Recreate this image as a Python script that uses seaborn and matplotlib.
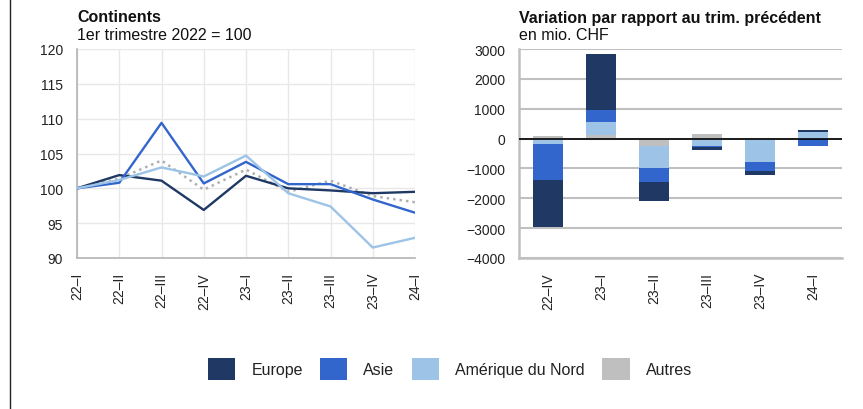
import numpy as np
import pandas as pd
import matplotlib
matplotlib.use('Agg')
import matplotlib.pyplot as plt
import seaborn as sns
from matplotlib.patches import Patch
from matplotlib.lines import Line2D

# Index values (1er trimestre 2022 = 100)
quarters = ['22–I', '22–II', '22–III', '22–IV', '23–I', '23–II', '23–III', '23–IV', '24–I']
europe_idx = [100, 101.9, 101.1, 96.9, 101.8, 100.0, 99.7, 99.3, 99.5]
asie_idx = [100, 100.8, 109.4, 100.7, 103.8, 100.6, 100.6, 98.4, 96.5]
amerique_idx = [100, 101.2, 103.0, 101.7, 104.7, 99.3, 97.4, 91.5, 92.9]
autres_idx = [100, 101.4, 104.0, 99.8, 102.7, 99.5, 101.1, 98.9, 98.0]

# Change vs previous quarter, mio. CHF
var_quarters = ['22–IV', '23–I', '23–II', '23–III', '23–IV', '24–I']
europe_var = [-1573, 1888, -663, -124, -124, 67]
asie_var = [-1213, 404, -438, -10, -303, -258]
amerique_var = [-191, 438, -742, -258, -798, 213]
autres_var = [79, 112, -258, 146, 0, 0]

names = ['Europe', 'Asie', 'Amérique du Nord', 'Autres']
colors = ['#1f3864', '#3366cc', '#9dc3e6', '#bfbfbf']

sns.set_theme(style='white')
plt.rcParams['font.family'] = ['Liberation Sans', 'DejaVu Sans']

fig = plt.figure(figsize=(8.63, 4.10), dpi=100)
W, H = 863, 410

def ax_rect(x0, y0, x1, y1):
    return [x0 / W, 1 - y1 / H, (x1 - x0) / W, (y1 - y0) / H]

# ---- left chart: lines
ax1 = fig.add_axes(ax_rect(77, 50, 415, 259))
series = [europe_idx, asie_idx, amerique_idx, autres_idx]
for name, vals, col in zip(names, series, colors):
    d = pd.DataFrame({'pos': np.arange(len(quarters)), 'val': vals})
    if name == 'Autres':
        sns.lineplot(data=d, x='pos', y='val', ax=ax1, color='#b0b0b0',
                     linewidth=1.8, linestyle=(0, (1, 1.6)), zorder=2)
    else:
        sns.lineplot(data=d, x='pos', y='val', ax=ax1, color=col,
                     linewidth=1.7, zorder=3)
ax1.set_xlim(0, len(quarters) - 1)
ax1.set_ylim(90, 120)
ax1.set_yticks(range(90, 121, 5))
ax1.set_xticks(range(len(quarters)))
ax1.set_xticklabels(quarters, rotation=90)
ax1.grid(True, color='#e8e8e8', linewidth=1)
ax1.set_xlabel('')
ax1.set_ylabel('')
for s in ['top', 'right']:
    ax1.spines[s].set_visible(False)
for s in ['left', 'bottom']:
    ax1.spines[s].set_color('#b4b4b4')
    ax1.spines[s].set_linewidth(1.2)
ax1.tick_params(axis='x', length=4, width=1, color='#b4b4b4', pad=6, labelsize=10, labelcolor='#222222')
ax1.tick_params(axis='y', length=0, pad=10, labelsize=10, labelcolor='#222222')

# ---- right chart: diverging stacked bars
ax2 = fig.add_axes(ax_rect(519, 50, 842, 259))
var_series = [autres_var, amerique_var, asie_var, europe_var]
var_colors = [colors[3], colors[2], colors[1], colors[0]]
x = np.arange(len(var_quarters))
pos_base = np.zeros(len(x))
neg_base = np.zeros(len(x))
for vals, col in zip(var_series, var_colors):
    v = np.array(vals, dtype=float)
    pos = np.where(v > 0, v, 0)
    neg = np.where(v < 0, v, 0)
    ax2.bar(x, pos, bottom=pos_base, width=0.56, color=col, linewidth=0, zorder=3)
    ax2.bar(x, neg, bottom=neg_base, width=0.56, color=col, linewidth=0, zorder=3)
    pos_base += pos
    neg_base += neg
ax2.set_xlim(-0.55, len(x) - 0.45)
ax2.set_ylim(-4000, 3000)
ax2.set_yticks(range(-4000, 3001, 1000))
ax2.set_xticks(x)
ax2.set_xticklabels(var_quarters, rotation=90)
ax2.yaxis.grid(True, color='#c0c0c0', linewidth=1.5, zorder=0)
ax2.xaxis.grid(False)
ax2.axhline(0, color='black', linewidth=1.2, zorder=4)
for s in ['top', 'right']:
    ax2.spines[s].set_visible(False)
for s in ['left', 'bottom']:
    ax2.spines[s].set_color('#c0c0c0')
    ax2.spines[s].set_linewidth(1.8)
ax2.tick_params(axis='x', length=5, width=1.2, color='#b4b4b4', pad=5, labelsize=10, labelcolor='#222222')
ax2.tick_params(axis='y', length=0, pad=10, labelsize=10, labelcolor='#222222')

# ---- titles
fig.text(77 / W, 1 - 18 / H, 'Continents', fontsize=11.5, fontweight='bold', va='center', ha='left', color='#111111')
fig.text(77 / W, 1 - 35 / H, '1er trimestre 2022 = 100', fontsize=11.5, va='center', ha='left', color='#111111')
fig.text(519 / W, 1 - 18 / H, 'Variation par rapport au trim. précédent', fontsize=11.5, fontweight='bold', va='center', ha='left', color='#111111')
fig.text(519 / W, 1 - 35 / H, 'en mio. CHF', fontsize=11.5, va='center', ha='left', color='#111111')

# ---- legend
handles = [Patch(facecolor=c, edgecolor='none') for c in colors]
fig.legend(handles, names, loc='center', bbox_to_anchor=(450 / W, 1 - 370 / H), ncol=4,
           frameon=False, fontsize=11.5, handlelength=1.7, handleheight=1.7,
           handletextpad=1.0, columnspacing=1.1, labelcolor='#222222')

# left frame line
fig.add_artist(Line2D([9.5 / W, 9.5 / W], [0, 1], color='#222222', linewidth=1))

fig.savefig('out.png', dpi=100)
